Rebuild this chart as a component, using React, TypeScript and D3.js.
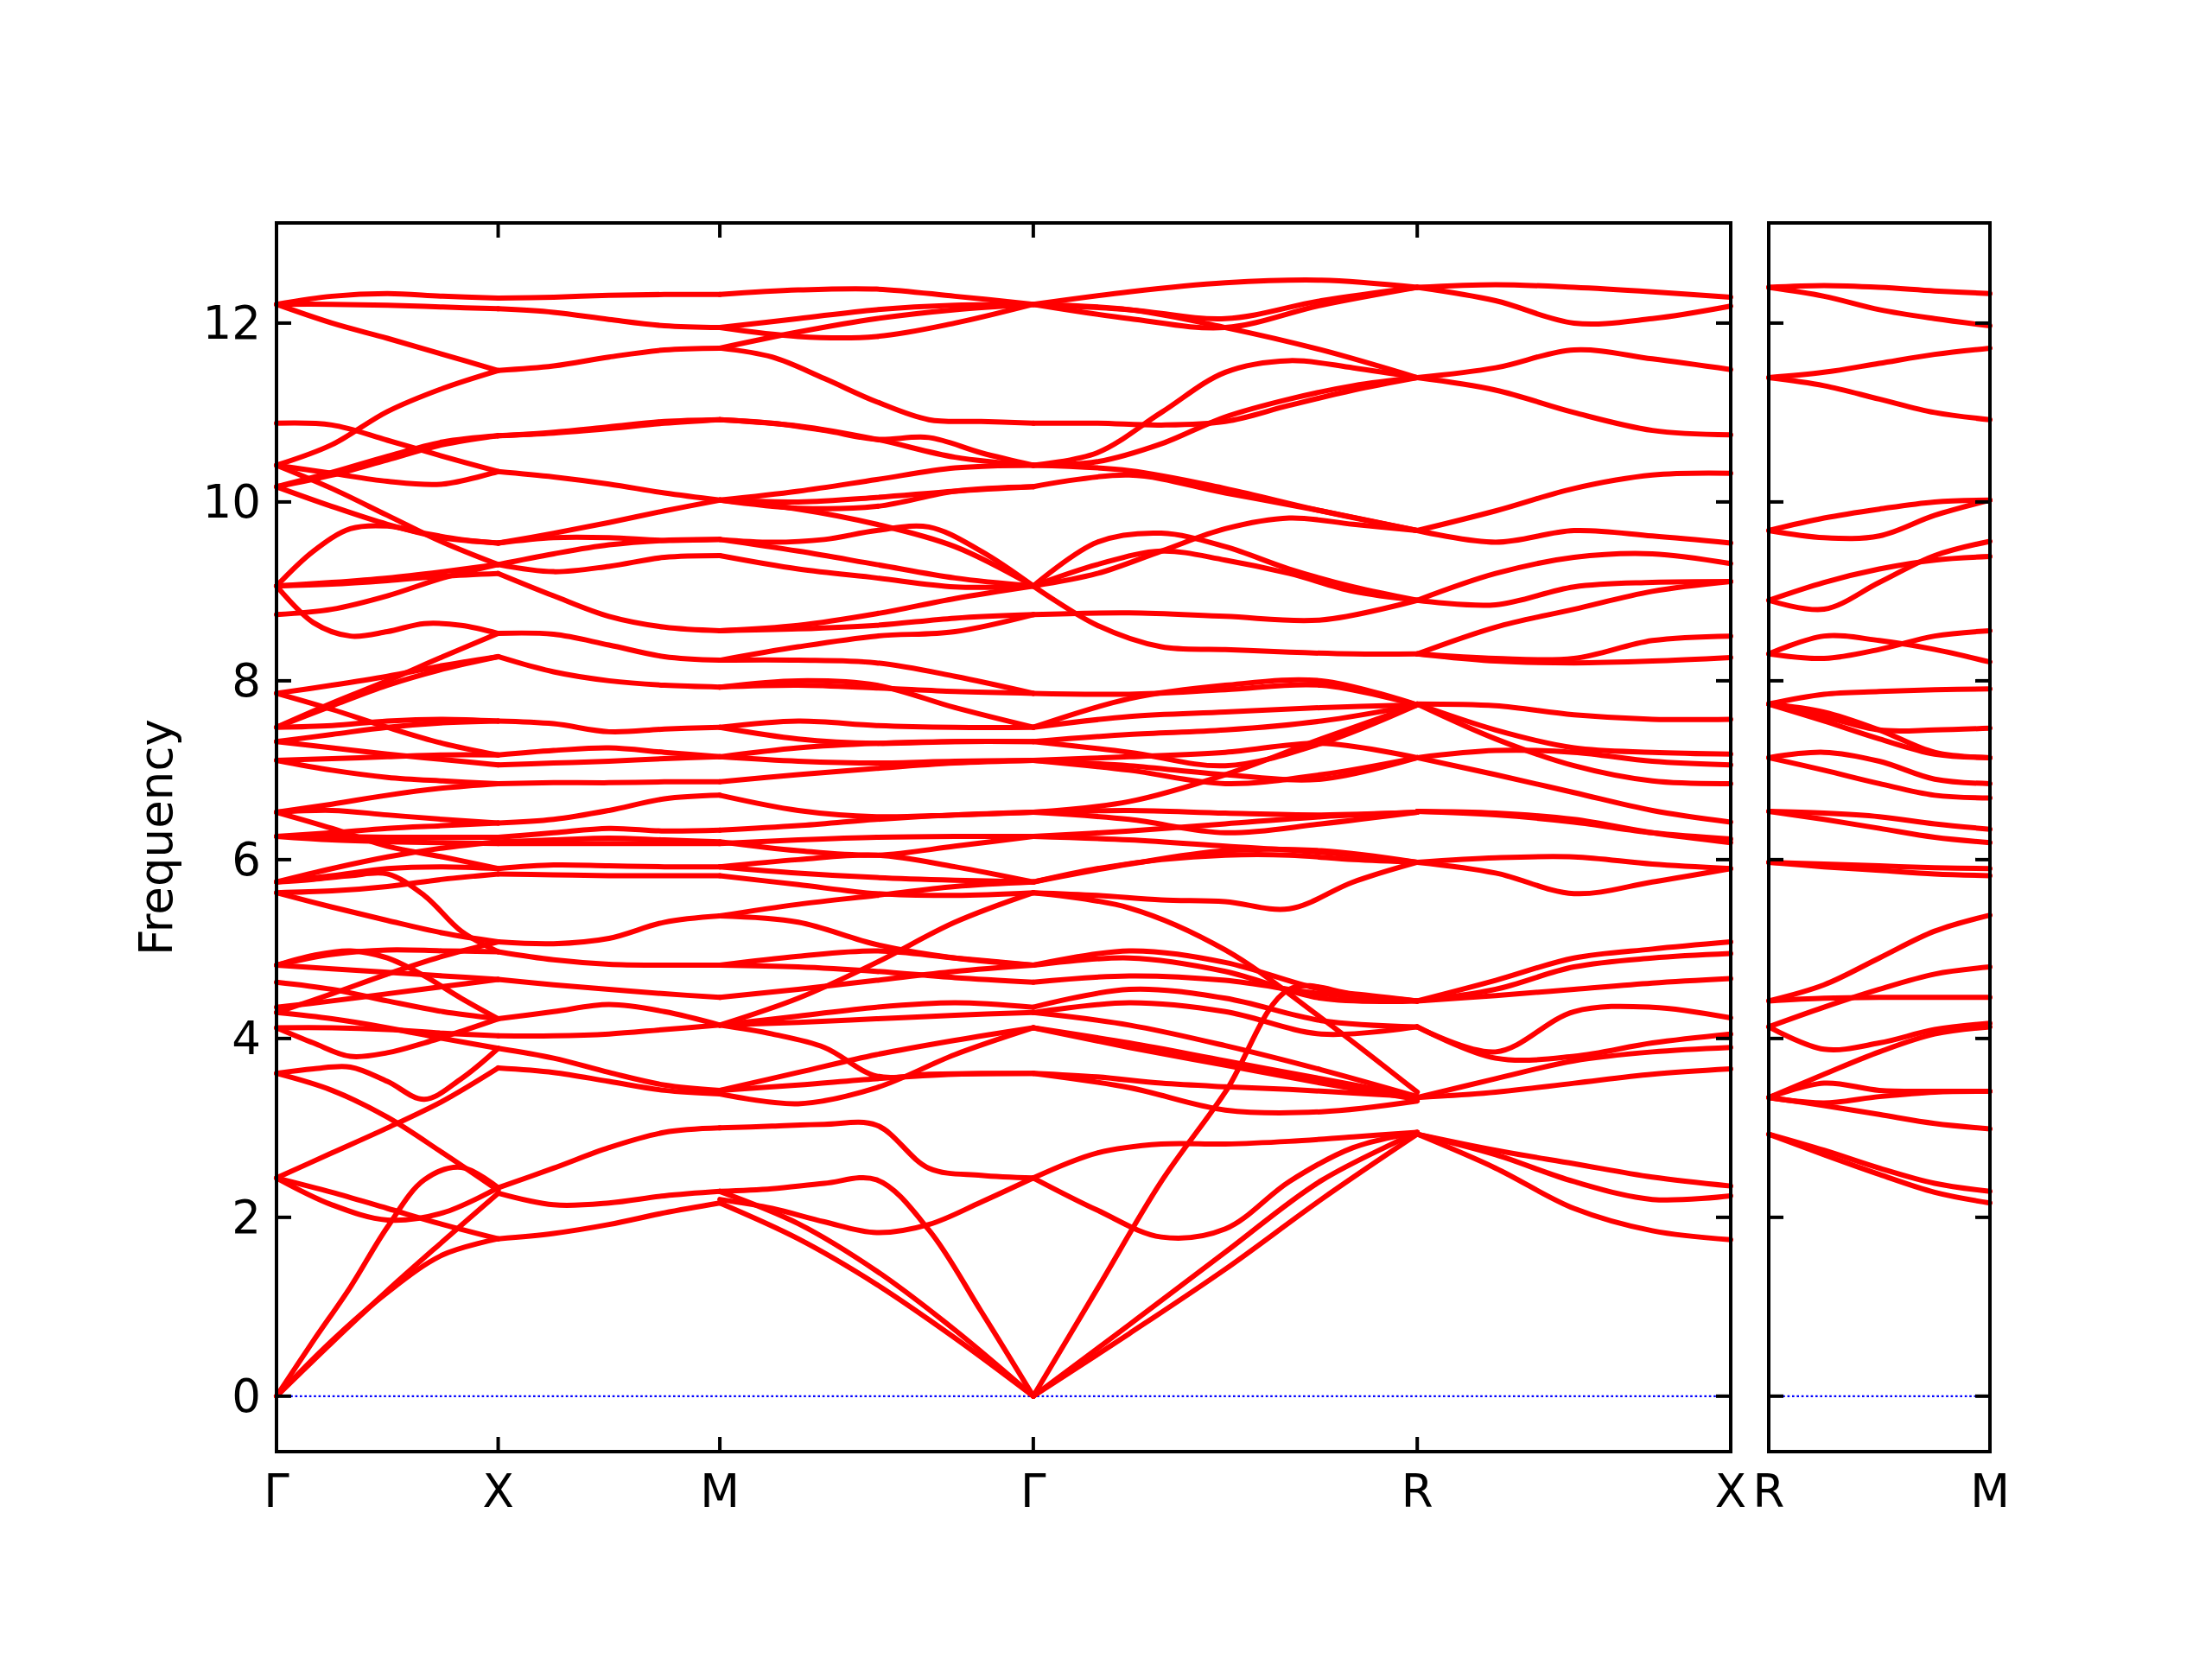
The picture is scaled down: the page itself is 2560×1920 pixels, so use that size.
import * as d3 from "d3";
import { useEffect } from "react";

// high-symmetry path (cubic lattice, distances in units of 2π/a)
const mainLabels = ["Γ", "X", "M", "Γ", "R", "X"];
const mainDist = [0, 1, 2, 2 + Math.SQRT2, 2 + Math.SQRT2 + Math.sqrt(3), 2 + 2 * Math.SQRT2 + Math.sqrt(3)];
const sideLabels = ["R", "M"];
const sideDist = [0, 1];
const yTicks = [0, 2, 4, 6, 8, 10, 12];

// each row: frequencies sampled evenly along the segment
const gammaX: number[][] = [
  [0, 0.62, 1.22, 1.89, 2.42, 2.56, 2.33],
  [0, 0.6, 1.18, 1.73, 2.27],
  [0, 0.62, 1.16, 1.58, 1.76],
  [2.44, 2.72, 3.0, 3.3, 3.67],
  [3.61, 3.66, 3.68, 3.52, 3.32, 3.55, 3.89],
  [3.61, 3.42, 3.12, 2.72, 2.3],
  [2.44, 2.14, 1.97, 2.05, 2.33],
  [2.44, 2.28, 2.1, 1.92, 1.76],
  [4.12, 3.95, 3.8, 3.84, 3.95, 4.08, 4.22],
  [4.12, 4.12, 4.1, 4.06, 4.03],
  [4.29, 4.22, 4.12, 4.0, 3.89],
  [4.29, 4.5, 4.72, 4.92, 5.08],
  [4.35, 4.42, 4.5, 4.58, 4.66],
  [4.63, 4.55, 4.42, 4.3, 4.22],
  [4.82, 4.93, 4.98, 4.9, 4.7, 4.45, 4.22],
  [4.82, 4.94, 4.99, 4.98, 4.97],
  [4.82, 4.78, 4.74, 4.7, 4.66],
  [5.63, 5.47, 5.32, 5.18, 5.08],
  [5.75, 5.78, 5.82, 5.84, 5.6, 5.2, 4.97],
  [5.63, 5.65, 5.7, 5.78, 5.84],
  [5.75, 5.82, 5.9, 5.92, 5.9],
  [6.26, 6.26, 6.25, 6.25, 6.25],
  [6.26, 6.22, 6.2, 6.19, 6.18],
  [6.53, 6.35, 6.15, 6.03, 5.9],
  [5.75, 5.9, 6.03, 6.13, 6.2],
  [6.53, 6.55, 6.5, 6.45, 6.41],
  [6.26, 6.3, 6.35, 6.38, 6.41],
  [6.53, 6.62, 6.72, 6.8, 6.85],
  [7.11, 7.0, 6.92, 6.88, 6.85],
  [7.48, 7.75, 8.0, 8.27, 8.53],
  [7.48, 7.72, 7.95, 8.13, 8.27],
  [7.86, 7.95, 8.05, 8.17, 8.27],
  [7.86, 7.68, 7.48, 7.3, 7.17],
  [7.32, 7.4, 7.48, 7.53, 7.55],
  [7.48, 7.5, 7.55, 7.57, 7.55],
  [7.32, 7.25, 7.18, 7.12, 7.06],
  [7.11, 7.13, 7.15, 7.17, 7.17],
  [9.06, 9.45, 9.7, 9.73, 9.65, 9.58, 9.54],
  [9.06, 9.1, 9.15, 9.22, 9.3],
  [9.06, 9.08, 9.12, 9.17, 9.2],
  [8.74, 8.8, 8.95, 9.15, 9.3],
  [9.06, 8.65, 8.5, 8.55, 8.64, 8.62, 8.53],
  [10.17, 9.95, 9.75, 9.6, 9.54],
  [10.41, 10.15, 9.85, 9.55, 9.3],
  [10.41, 10.64, 11.01, 11.27, 11.47],
  [10.88, 10.86, 10.69, 10.51, 10.34],
  [10.17, 10.3, 10.47, 10.64, 10.74],
  [10.17, 10.33, 10.51, 10.67, 10.74],
  [10.41, 10.32, 10.23, 10.2, 10.34],
  [12.21, 12.3, 12.33, 12.3, 12.28],
  [12.21, 12.21, 12.2, 12.18, 12.16],
  [12.21, 12.0, 11.83, 11.65, 11.47],
];

const xM: number[][] = [
  [1.76, 1.82, 1.92, 2.05, 2.16],
  [2.27, 2.14, 2.16, 2.24, 2.29],
  [2.33, 2.55, 2.78, 2.95, 3.0],
  [3.67, 3.62, 3.52, 3.42, 3.38],
  [3.89, 3.78, 3.62, 3.48, 3.42],
  [4.03, 4.03, 4.05, 4.1, 4.15],
  [4.22, 4.3, 4.38, 4.3, 4.15],
  [4.66, 4.6, 4.55, 4.5, 4.46],
  [4.97, 4.88, 4.83, 4.82, 4.82],
  [5.08, 5.06, 5.12, 5.3, 5.37],
  [5.84, 5.83, 5.82, 5.82, 5.82],
  [5.9, 5.94, 5.93, 5.92, 5.92],
  [6.18, 6.18, 6.18, 6.18, 6.18],
  [6.2, 6.22, 6.24, 6.22, 6.2],
  [6.25, 6.3, 6.35, 6.32, 6.33],
  [6.41, 6.45, 6.55, 6.68, 6.72],
  [6.85, 6.86, 6.86, 6.87, 6.87],
  [7.06, 7.08, 7.1, 7.13, 7.15],
  [7.17, 7.22, 7.25, 7.2, 7.15],
  [7.55, 7.52, 7.43, 7.46, 7.48],
  [8.27, 8.1, 8.0, 7.95, 7.93],
  [8.53, 8.52, 8.4, 8.27, 8.23],
  [9.2, 8.95, 8.72, 8.6, 8.56],
  [9.3, 9.22, 9.28, 9.38, 9.4],
  [9.3, 9.42, 9.52, 9.57, 9.58],
  [9.54, 9.65, 9.77, 9.9, 10.02],
  [9.54, 9.6, 9.6, 9.57, 9.58],
  [10.34, 10.28, 10.2, 10.1, 10.02],
  [10.74, 10.78, 10.84, 10.9, 10.92],
  [10.74, 10.77, 10.82, 10.88, 10.92],
  [11.47, 11.52, 11.62, 11.7, 11.72],
  [12.16, 12.12, 12.04, 11.97, 11.95],
  [12.28, 12.29, 12.31, 12.32, 12.32],
];

const mGamma: number[][] = [
  [2.16, 1.76, 1.25, 0.65, 0],
  [2.29, 1.93, 1.4, 0.74, 0],
  [2.29, 2.32, 2.38, 2.42, 1.86, 0.95, 0],
  [3.0, 3.02, 3.04, 3.03, 2.55, 2.47, 2.44],
  [2.2, 2.1, 1.95, 1.83, 1.92, 2.17, 2.44],
  [4.15, 4.05, 3.9, 3.58, 3.6, 3.61, 3.61],
  [3.42, 3.48, 3.55, 3.6, 3.61],
  [3.38, 3.27, 3.45, 3.82, 4.12],
  [3.42, 3.62, 3.82, 3.98, 4.12],
  [4.15, 4.18, 4.22, 4.26, 4.29],
  [4.15, 4.25, 4.35, 4.4, 4.35],
  [4.46, 4.55, 4.65, 4.75, 4.82],
  [4.82, 4.8, 4.75, 4.68, 4.63],
  [4.82, 4.92, 4.98, 4.9, 4.82],
  [4.15, 4.45, 4.85, 5.3, 5.63],
  [5.37, 5.3, 5.05, 4.9, 4.82],
  [5.37, 5.5, 5.6, 5.7, 5.75],
  [5.82, 5.72, 5.62, 5.6, 5.63],
  [5.92, 5.85, 5.8, 5.77, 5.75],
  [5.92, 6.0, 6.05, 5.92, 5.75],
  [6.18, 6.22, 6.25, 6.26, 6.26],
  [6.2, 6.1, 6.05, 6.15, 6.26],
  [6.33, 6.38, 6.45, 6.5, 6.53],
  [6.72, 6.55, 6.48, 6.5, 6.53],
  [6.87, 6.95, 7.02, 7.08, 7.11],
  [7.15, 7.1, 7.08, 7.1, 7.11],
  [7.15, 7.25, 7.3, 7.32, 7.32],
  [7.48, 7.35, 7.3, 7.32, 7.32],
  [7.48, 7.55, 7.5, 7.48, 7.48],
  [7.93, 7.95, 7.92, 7.88, 7.86],
  [7.93, 8.0, 7.95, 7.7, 7.48],
  [8.23, 8.23, 8.2, 8.05, 7.86],
  [8.56, 8.58, 8.62, 8.7, 8.74],
  [8.23, 8.38, 8.5, 8.55, 8.74],
  [8.56, 8.62, 8.75, 8.92, 9.06],
  [9.4, 9.25, 9.15, 9.05, 9.06],
  [9.58, 9.45, 9.3, 9.15, 9.06],
  [9.58, 9.55, 9.58, 9.68, 9.72, 9.45, 9.06],
  [10.02, 9.92, 9.75, 9.5, 9.06],
  [10.02, 10.0, 10.05, 10.12, 10.17],
  [10.02, 9.93, 9.95, 10.12, 10.17],
  [10.02, 10.12, 10.25, 10.38, 10.41],
  [10.92, 10.85, 10.7, 10.5, 10.41],
  [10.92, 10.88, 10.8, 10.7, 10.72, 10.55, 10.41],
  [11.72, 11.62, 11.38, 11.12, 10.92, 10.9, 10.88],
  [11.72, 11.9, 12.05, 12.15, 12.21],
  [11.95, 12.05, 12.15, 12.2, 12.21],
  [11.95, 11.85, 11.85, 12.0, 12.21],
  [12.32, 12.37, 12.38, 12.3, 12.21],
];

const gammaR: number[][] = [
  [0, 0.8, 1.61, 2.41, 2.95],
  [0, 0.7, 1.42, 2.2, 2.93],
  [0, 1.2, 2.4, 3.4, 4.55, 4.5, 4.42],
  [2.44, 2.08, 1.78, 1.87, 2.4, 2.78, 2.95],
  [2.44, 2.72, 2.82, 2.82, 2.85, 2.9, 2.95],
  [3.61, 3.57, 3.5, 3.46, 3.43, 3.39, 3.35],
  [3.61, 3.45, 3.2, 3.18, 3.3],
  [4.12, 3.95, 3.75, 3.55, 3.35],
  [4.12, 3.9, 3.7, 3.5, 3.32],
  [4.29, 4.15, 3.92, 3.65, 3.35],
  [4.29, 4.4, 4.3, 4.05, 4.13],
  [4.35, 4.55, 4.45, 4.2, 4.13],
  [4.63, 4.7, 4.65, 4.5, 4.42],
  [4.82, 4.98, 4.85, 4.55, 4.42],
  [4.82, 4.9, 4.75, 4.45, 4.42],
  [5.63, 5.46, 4.99, 4.23, 3.4],
  [5.63, 5.6, 5.55, 5.53, 5.45, 5.75, 5.97],
  [5.75, 5.9, 6.0, 6.05, 6.05, 6.0, 5.97],
  [5.75, 5.95, 6.1, 6.1, 5.97],
  [6.26, 6.22, 6.15, 6.08, 5.97],
  [6.26, 6.32, 6.4, 6.48, 6.53],
  [6.53, 6.55, 6.52, 6.5, 6.53],
  [6.53, 6.45, 6.3, 6.4, 6.53],
  [7.11, 7.05, 6.95, 6.9, 7.14],
  [7.11, 7.0, 6.85, 6.95, 7.14],
  [7.11, 7.15, 7.2, 7.3, 7.14],
  [7.32, 7.2, 7.05, 7.3, 7.73],
  [7.32, 7.4, 7.45, 7.55, 7.73],
  [7.48, 7.6, 7.65, 7.7, 7.73],
  [7.48, 7.8, 7.95, 8.0, 7.73],
  [7.86, 7.85, 7.9, 7.95, 7.73],
  [6.53, 6.65, 6.95, 7.35, 7.73],
  [8.74, 8.76, 8.72, 8.68, 8.9],
  [9.06, 8.62, 8.38, 8.35, 8.32, 8.3, 8.3],
  [9.06, 9.55, 9.65, 9.5, 9.25, 9.05, 8.9],
  [9.06, 9.3, 9.45, 9.35, 9.2, 9.0, 8.9],
  [9.06, 9.2, 9.45, 9.7, 9.82, 9.75, 9.68],
  [10.17, 10.3, 10.1, 9.9, 9.68],
  [10.41, 10.35, 10.15, 9.9, 9.68],
  [10.41, 10.55, 11.0, 11.45, 11.58, 11.5, 11.39],
  [10.41, 10.45, 10.65, 10.95, 11.15, 11.3, 11.39],
  [10.88, 10.88, 10.86, 10.9, 11.08, 11.25, 11.39],
  [12.21, 12.35, 12.45, 12.48, 12.4],
  [12.21, 12.15, 12.05, 12.25, 12.4],
  [12.21, 12.05, 11.95, 12.2, 12.4],
  [12.21, 12.15, 11.95, 11.7, 11.39],
];

const rX: number[][] = [
  [12.4, 12.43, 12.4, 12.35, 12.29],
  [12.4, 12.25, 12.0, 12.05, 12.19],
  [11.39, 11.5, 11.7, 11.6, 11.48],
  [11.39, 11.25, 11.0, 10.8, 10.75],
  [9.68, 9.9, 10.15, 10.3, 10.32],
  [9.68, 9.55, 9.68, 9.62, 9.54],
  [8.9, 9.2, 9.38, 9.42, 9.31],
  [8.9, 8.85, 9.05, 9.1, 9.11],
  [8.3, 8.25, 8.25, 8.45, 8.5],
  [8.3, 8.6, 8.8, 9.0, 9.11],
  [8.3, 8.22, 8.2, 8.22, 8.26],
  [7.74, 7.72, 7.62, 7.57, 7.57],
  [7.74, 7.45, 7.25, 7.2, 7.18],
  [7.74, 7.35, 7.05, 6.88, 6.85],
  [7.14, 7.22, 7.2, 7.1, 7.06],
  [7.14, 6.95, 6.75, 6.55, 6.42],
  [6.54, 6.52, 6.45, 6.3, 6.19],
  [6.54, 6.5, 6.42, 6.3, 6.23],
  [5.97, 6.02, 6.03, 5.95, 5.9],
  [5.97, 5.85, 5.62, 5.75, 5.9],
  [4.42, 4.65, 4.9, 5.0, 5.08],
  [4.42, 4.55, 4.8, 4.9, 4.95],
  [4.42, 4.48, 4.55, 4.62, 4.67],
  [4.13, 3.85, 4.3, 4.35, 4.23],
  [4.13, 3.78, 3.8, 3.95, 4.05],
  [3.34, 3.55, 3.75, 3.85, 3.9],
  [3.34, 3.4, 3.5, 3.6, 3.66],
  [2.93, 2.75, 2.6, 2.45, 2.35],
  [2.93, 2.7, 2.4, 2.2, 2.24],
  [2.93, 2.55, 2.1, 1.85, 1.75],
];

const rM: number[][] = [
  [12.4, 12.42, 12.4, 12.36, 12.33],
  [12.4, 12.3, 12.15, 12.05, 11.97],
  [11.39, 11.45, 11.55, 11.65, 11.72],
  [11.39, 11.3, 11.15, 11.0, 10.92],
  [9.68, 9.82, 9.92, 10.0, 10.02],
  [9.68, 9.6, 9.62, 9.85, 10.02],
  [8.9, 9.1, 9.25, 9.35, 9.39],
  [8.9, 8.8, 9.1, 9.4, 9.56],
  [8.3, 8.5, 8.45, 8.35, 8.21],
  [8.3, 8.25, 8.35, 8.5, 8.56],
  [7.74, 7.85, 7.88, 7.9, 7.91],
  [7.74, 7.6, 7.45, 7.45, 7.47],
  [7.74, 7.55, 7.35, 7.18, 7.14],
  [7.74, 7.65, 7.45, 7.2, 7.14],
  [7.14, 7.2, 7.1, 6.9, 6.85],
  [7.14, 7.0, 6.85, 6.72, 6.69],
  [6.54, 6.52, 6.48, 6.4, 6.34],
  [6.54, 6.45, 6.35, 6.25, 6.19],
  [5.97, 5.95, 5.93, 5.91, 5.9],
  [5.97, 5.92, 5.88, 5.84, 5.82],
  [4.42, 4.6, 4.9, 5.2, 5.38],
  [4.42, 4.45, 4.46, 4.46, 4.46],
  [4.13, 4.35, 4.55, 4.72, 4.8],
  [4.13, 3.88, 3.95, 4.1, 4.17],
  [3.34, 3.6, 3.85, 4.05, 4.13],
  [3.34, 3.5, 3.42, 3.41, 3.41],
  [3.34, 3.28, 3.35, 3.4, 3.41],
  [3.34, 3.25, 3.15, 3.05, 2.99],
  [2.93, 2.75, 2.55, 2.38, 2.29],
  [2.93, 2.7, 2.48, 2.28, 2.16],
];

const mainSegments = [gammaX, xM, mGamma, gammaR, rX];
const sideSegments = [rM];

const W = 2560;
const H = 1920;
const top = 258;
const bottom = 1680;
const mainBox = { left: 320, right: 2003 };
const sideBox = { left: 2047, right: 2303 };
const RED = "#ff0000";
const FONT = "DejaVu Sans, sans-serif";

const y = d3.scaleLinear().domain([-0.62, 13.12]).range([bottom, top]);

function Panel({
  box,
  dist,
  labels,
  segments,
  showYLabels,
}: {
  box: { left: number; right: number };
  dist: number[];
  labels: string[];
  segments: number[][][];
  showYLabels: boolean;
}) {
  const x = d3
    .scaleLinear()
    .domain([dist[0], dist[dist.length - 1]])
    .range([box.left, box.right]);
  const path = d3
    .line<[number, number]>()
    .x((d) => x(d[0]))
    .y((d) => y(d[1]))
    .curve(d3.curveCatmullRom.alpha(0.5));
  const tickLen = 17;

  return (
    <g>
      <line
        x1={box.left}
        x2={box.right}
        y1={y(0)}
        y2={y(0)}
        stroke="#0000ff"
        strokeWidth={2.4}
        strokeDasharray="2.6 2.8"
      />
      <g fill="none" stroke={RED} strokeWidth={6} strokeLinejoin="round" strokeLinecap="round">
        {segments.map((rows, si) => {
          const x0 = dist[si];
          const x1 = dist[si + 1];
          return rows.map((row, ri) => {
            const pts = row.map((v, j) => [x0 + ((x1 - x0) * j) / (row.length - 1), v] as [number, number]);
            return <path key={`${si}-${ri}`} d={path(pts) ?? ""} />;
          });
        })}
      </g>
      <g stroke="#000" strokeWidth={4}>
        {yTicks.map((t) => (
          <g key={t}>
            <line x1={box.left} x2={box.left + tickLen} y1={y(t)} y2={y(t)} />
            <line x1={box.right} x2={box.right - tickLen} y1={y(t)} y2={y(t)} />
          </g>
        ))}
        {dist.map((d, i) => (
          <g key={i}>
            <line x1={x(d)} x2={x(d)} y1={top} y2={top + tickLen} />
            <line x1={x(d)} x2={x(d)} y1={bottom} y2={bottom - tickLen} />
          </g>
        ))}
      </g>
      <rect
        x={box.left}
        y={top}
        width={box.right - box.left}
        height={bottom - top}
        fill="none"
        stroke="#000"
        strokeWidth={4}
      />
      {showYLabels &&
        yTicks.map((t) => (
          <text key={t} x={box.left - 18} y={y(t)} textAnchor="end" dominantBaseline="central" fontSize={53} fontFamily={FONT}>
            {t}
          </text>
        ))}
      {labels.map((l, i) => (
        <text key={i} x={x(dist[i])} y={1744} textAnchor="middle" fontSize={53} fontFamily={FONT}>
          {l}
        </text>
      ))}
    </g>
  );
}

export default function App() {
  useEffect(() => {
    document.body.style.margin = "0";
  }, []);
  return (
    <svg width={W} height={H} viewBox={`0 0 ${W} ${H}`} style={{ display: "block", background: "#fff" }}>
      <Panel box={mainBox} dist={mainDist} labels={mainLabels} segments={mainSegments} showYLabels />
      <Panel box={sideBox} dist={sideDist} labels={sideLabels} segments={sideSegments} showYLabels={false} />
      <text
        x={180}
        y={(top + bottom) / 2}
        transform={`rotate(-90, 180, ${(top + bottom) / 2})`}
        textAnchor="middle"
        dominantBaseline="central"
        fontSize={53}
        fontFamily={FONT}
      >
        Frequency
      </text>
    </svg>
  );
}
